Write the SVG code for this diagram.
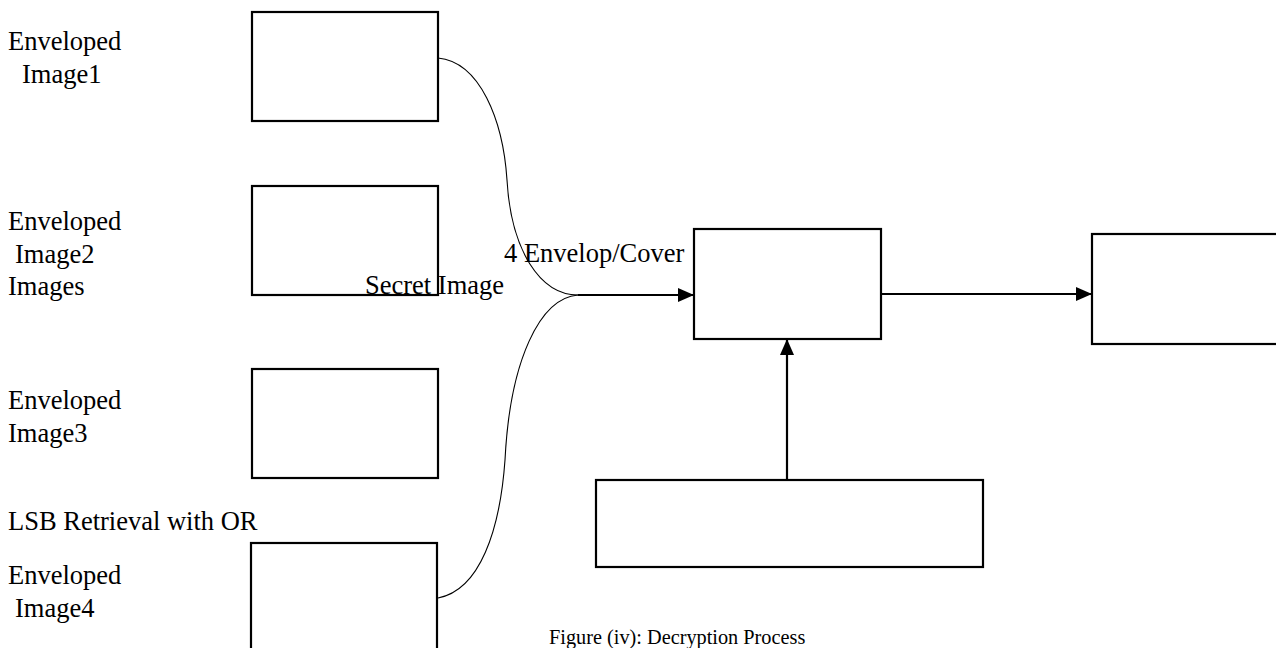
<svg xmlns="http://www.w3.org/2000/svg" width="1276" height="648" viewBox="0 0 1276 648">
<style>
.box{fill:#fff;stroke:#000;stroke-width:2.2}
.t{font-family:"Liberation Serif","Times New Roman",serif;font-size:26.5px;fill:#000}
.cap{font-family:"Liberation Serif","Times New Roman",serif;font-size:20.3px;fill:#000}
.arr{fill:none;stroke:#000;stroke-width:2.2}
.crv{fill:none;stroke:#000;stroke-width:1.1}
</style>
<defs>
<marker id="ah" viewBox="0 0 16 14" refX="16" refY="7" markerWidth="16" markerHeight="14" markerUnits="userSpaceOnUse" orient="auto">
<path d="M0,0 L16,7 L0,14 Z" fill="#000"/>
</marker>
</defs>
<rect width="1276" height="648" fill="#fff"/>
<g id="labels">
<text class="t" x="8" y="50">Enveloped</text>
<text class="t" x="22" y="83">Image1</text>
<text class="t" x="8" y="230">Enveloped</text>
<text class="t" x="15" y="263">Image2</text>
<text class="t" x="8" y="295">Images</text>
<text class="t" x="8" y="409">Enveloped</text>
<text class="t" x="8" y="442">Image3</text>
<text class="t" x="8" y="530">LSB Retrieval with OR</text>
<text class="t" x="8" y="584">Enveloped</text>
<text class="t" x="15" y="617">Image4</text>
<text class="cap" x="549" y="644">Figure (iv): Decryption Process</text>
</g>
<g id="node-env1"><rect class="box" x="252" y="12" width="186" height="109"/></g>
<g id="node-env2"><rect class="box" x="252" y="186" width="186" height="109"/></g>
<g id="node-env3"><rect class="box" x="252" y="369" width="186" height="109"/></g>
<g id="node-env4"><rect class="box" x="251" y="543" width="186" height="112"/></g>
<g id="node-center"><rect class="box" x="694" y="229" width="187" height="110"/></g>
<g id="node-output"><rect class="box" x="1092" y="234" width="200" height="110"/></g>
<g id="node-bottom"><rect class="box" x="596" y="480" width="387" height="87"/></g>
<g id="connectors">
<path class="crv" d="M438,58 C480,62 503,120 507,180 C511,250 540,295 578,295"/>
<path class="crv" d="M438,598 C480,590 500,530 505,460 C510,360 540,298 578,295"/>
<line class="arr" x1="578" y1="295" x2="694" y2="295" marker-end="url(#ah)"/>
<line class="arr" x1="881" y1="294" x2="1092" y2="294" marker-end="url(#ah)"/>
<line class="arr" x1="787" y1="480" x2="787" y2="339" marker-end="url(#ah)"/>
</g>
<g id="mid-labels">
<text class="t" x="504" y="262">4 Envelop/Cover</text>
<text class="t" x="365" y="294">Secret Image</text>
</g>
</svg>
